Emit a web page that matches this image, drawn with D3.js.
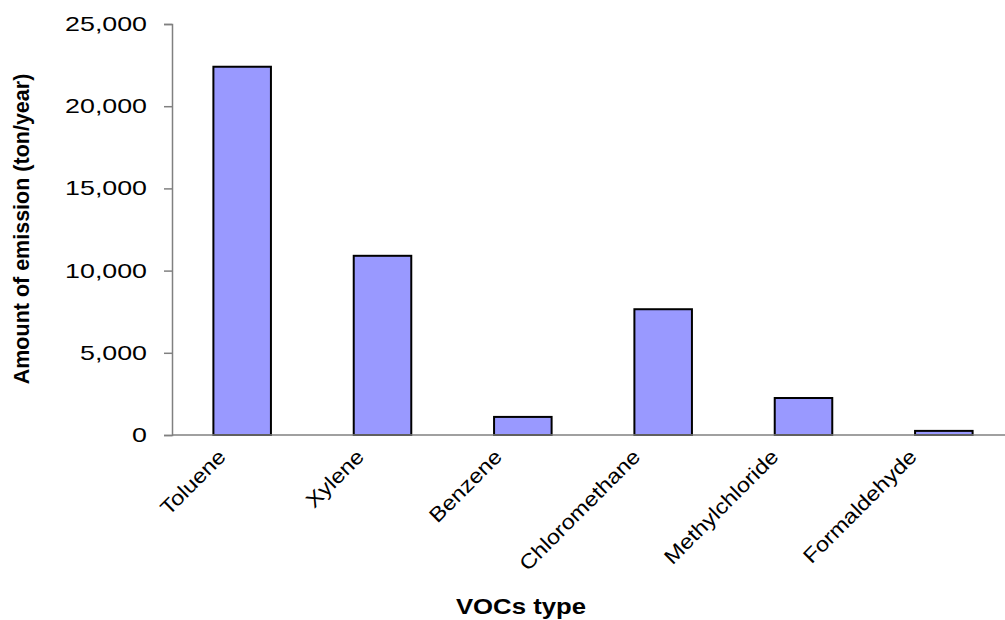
<!DOCTYPE html>
<html>
<head>
<meta charset="utf-8">
<script src="https://cdn.jsdelivr.net/npm/d3@7"></script>
<style>
  html, body { margin: 0; padding: 0; background: #fff; }
  svg { display: block; }
  text { font-family: "Liberation Sans", Arial, sans-serif; fill: #000; }
</style>
</head>
<body>
<svg id="chart" width="1005" height="620"></svg>
<script>
const categories = ["Toluene", "Xylene", "Benzene", "Chloromethane", "Methylchloride", "Formaldehyde"];
const values = [22400, 10900, 1100, 7650, 2250, 250];
const yTicks = [0, 5000, 10000, 15000, 20000, 25000];
const yTitle = "Amount of emission (ton/year)";
const xTitle = "VOCs type";

const svg = d3.select("#chart");
const W = 1005, H = 620;
const plot = { left: 172, right: 1014, top: 24, bottom: 435 };

const x = d3.scaleBand().domain(categories).range([plot.left, plot.right])
  .paddingInner(0.59).paddingOuter(0.295);
const y = d3.scaleLinear().domain([0, 25000]).range([plot.bottom, plot.top]);
// label anchor positions (labels in the reference sit on a slightly tighter spacing)
const xl = d3.scalePoint().domain(categories).range([227, 918]);

// bars
svg.append("g").selectAll("rect").data(values).join("rect")
  .attr("x", (d, i) => x(categories[i]))
  .attr("y", d => y(d))
  .attr("width", x.bandwidth())
  .attr("height", d => y(0) - y(d))
  .attr("fill", "#9999ff")
  .attr("stroke", "#000")
  .attr("stroke-width", 2);

// x axis line
svg.append("line")
  .attr("x1", plot.left).attr("x2", W).attr("y1", y(0)).attr("y2", y(0))
  .attr("stroke", "#808080").attr("stroke-width", 1.5);

// y axis
const yAxis = d3.axisLeft(y).tickValues(yTicks).tickSize(8).tickPadding(17)
  .tickFormat(d3.format(","));
const gy = svg.append("g").attr("transform", `translate(${plot.left},0)`).call(yAxis);
gy.select(".domain").attr("stroke", "#808080").attr("stroke-width", 1.5);
gy.selectAll(".tick line").attr("stroke", "#808080").attr("stroke-width", 1.5);
gy.selectAll(".tick text")
  .attr("font-size", 20)
  .attr("font-family", "Liberation Sans, Arial, sans-serif")
  .each(function() {
    const t = d3.select(this);
    const xx = +t.attr("x");
    t.attr("x", null).attr("transform", `translate(${xx},0) scale(1.34,1)`);
  });

// x tick labels
svg.append("g").selectAll("text").data(categories).join("text")
  .attr("transform", d => `translate(${xl(d)},458) rotate(-45) scale(1.15,1)`)
  .attr("text-anchor", "end")
  .attr("font-size", 20.5)
  .text(d => d);

// axis titles
svg.append("text")
  .attr("transform", `translate(29,229) rotate(-90)`)
  .attr("text-anchor", "middle")
  .attr("font-size", 21.5)
  .attr("font-weight", "bold")
  .text(yTitle);

svg.append("text")
  .attr("transform", "translate(521,614) scale(1.17,1)")
  .attr("text-anchor", "middle")
  .attr("font-size", 22)
  .attr("font-weight", "bold")
  .text(xTitle);
</script>
</body>
</html>
